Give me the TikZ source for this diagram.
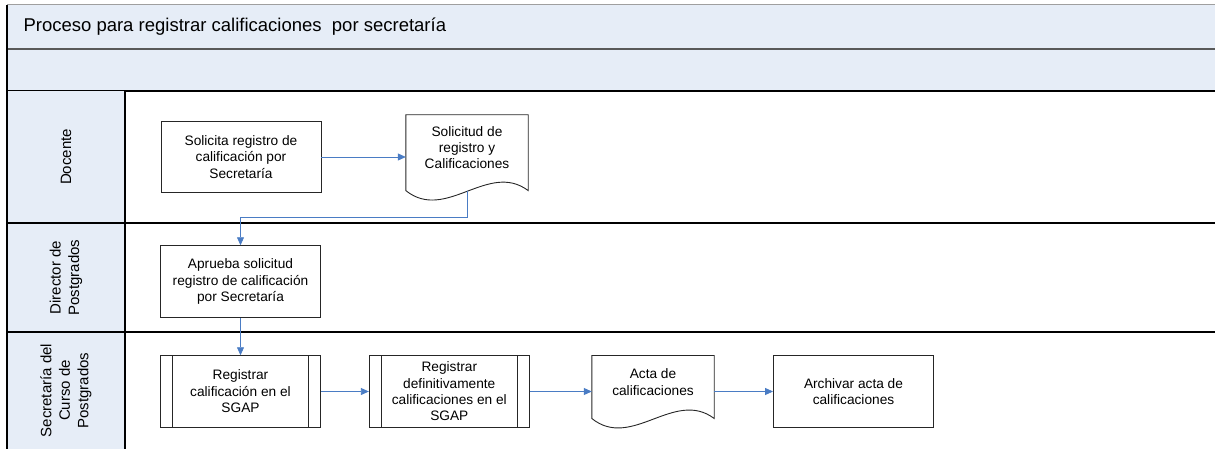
\documentclass[tikz,border=0pt]{standalone}
\usepackage{fontspec}
\setmainfont{Liberation Sans}
\usetikzlibrary{arrows.meta, calc}
\definecolor{fondo}{RGB}{230,237,247}
\definecolor{azulflecha}{RGB}{74,124,196}

\begin{document}
\begin{tikzpicture}[x=1pt, y=-1pt,
    caja/.style={draw=black!85, line width=0.9pt, minimum width=160pt, minimum height=71.6pt,
        inner sep=2pt, align=center, font=\fontsize{13.7}{16.4}\selectfont},
    documento/.style={minimum width=122pt, inner sep=2pt, align=center,
        font=\fontsize{13.7}{16.4}\selectfont},
    borde/.style={draw=black!85, line width=0.9pt},
    flecha/.style={draw=azulflecha, line width=0.8pt, -{Triangle[length=8pt, width=7pt]}},
    carril/.style={draw=black, line width=1.1pt},
    etiqueta/.style={rotate=90, align=center, font=\fontsize{15}{18.5}\selectfont}]
    \useasboundingbox (0,0) rectangle (1215,449);
    % bandas del titulo
    \fill[fondo] (7,5) rectangle (1220,91);
    \draw[gray!75, line width=1pt] (7,5) -- (1220,5);
    \draw[black!65, line width=1.6pt] (7,49) -- (1220,49);
    \draw[carril] (7,91) -- (1220,91);
    \node[anchor=west, font=\fontsize{18.5}{22}\selectfont] (titulo) at (20,27)
        {Proceso para registrar calificaciones~ por secretaría};
    % carriles
    \fill[fondo] (7,91) rectangle (125,460);
    \foreach \y in {223,332} {
        \draw[carril] (7,\y) -- (1220,\y);
    }
    \draw[carril] (125,91) -- (125,460);
    \draw[carril] (7,5) -- (7,460);
    \node[etiqueta] (docente) at (66,157) {Docente};
    \node[etiqueta] (director) at (66,277.5) {Director de\\Postgrados};
    \node[etiqueta] (secretaria) at (66,390.5) {Secretaría del\\Curso de\\Postgrados};
    % actividades
    \node[caja] (solicita) at (241,157) {Solicita registro de\\calificación por\\Secretaría};
    \node[documento, minimum height=65.4pt] (solicitud) at (467,147.7) {Solicitud de\\registro y\\Calificaciones};
    \node[caja] (aprueba) at (240.5,281.5) {Aprueba solicitud\\registro de calificación\\por Secretaría};
    \node[caja] (registrar) at (240.5,391.5) {Registrar\\calificación en el\\SGAP};
    \node[caja] (definitivo) at (449.3,391.5) {Registrar\\definitivamente\\calificaciones en el\\SGAP};
    \node[documento, minimum height=52.6pt] (acta) at (653,382) {Acta de\\calificaciones};
    \node[caja] (archivar) at (853.5,391.5) {Archivar acta de\\calificaciones};
    % documentos con borde ondulado
    \foreach \d in {solicitud, acta} {
        \draw[borde] (\d.north west) -- (\d.north east) -- ($(\d.south east)+(0,10)$)
            .. controls +(-40,-30) and +(40,32) .. ($(\d.south west)+(0,10)$) -- cycle;
    }
    % subprocesos
    \foreach \p in {registrar, definitivo} {
        \draw[borde] ($(\p.north west)+(12.6,0)$) -- ($(\p.south west)+(12.6,0)$);
        \draw[borde] ($(\p.north east)+(-12.6,0)$) -- ($(\p.south east)+(-12.6,0)$);
    }
    % conectores
    \draw[flecha] (solicita.east) -- (solicita.east -| solicitud.west);
    \draw[flecha] ($(solicitud.south)+(0,10)$) -- ++(0,26.7) -| (aprueba.north);
    \draw[flecha] (aprueba.south) -- (registrar.north);
    \draw[flecha] (registrar.east) -- (definitivo.west);
    \draw[flecha] (definitivo.east) -- (definitivo.east -| acta.west);
    \draw[flecha] (acta.east |- archivar.west) -- (archivar.west);
\end{tikzpicture}
\end{document}
